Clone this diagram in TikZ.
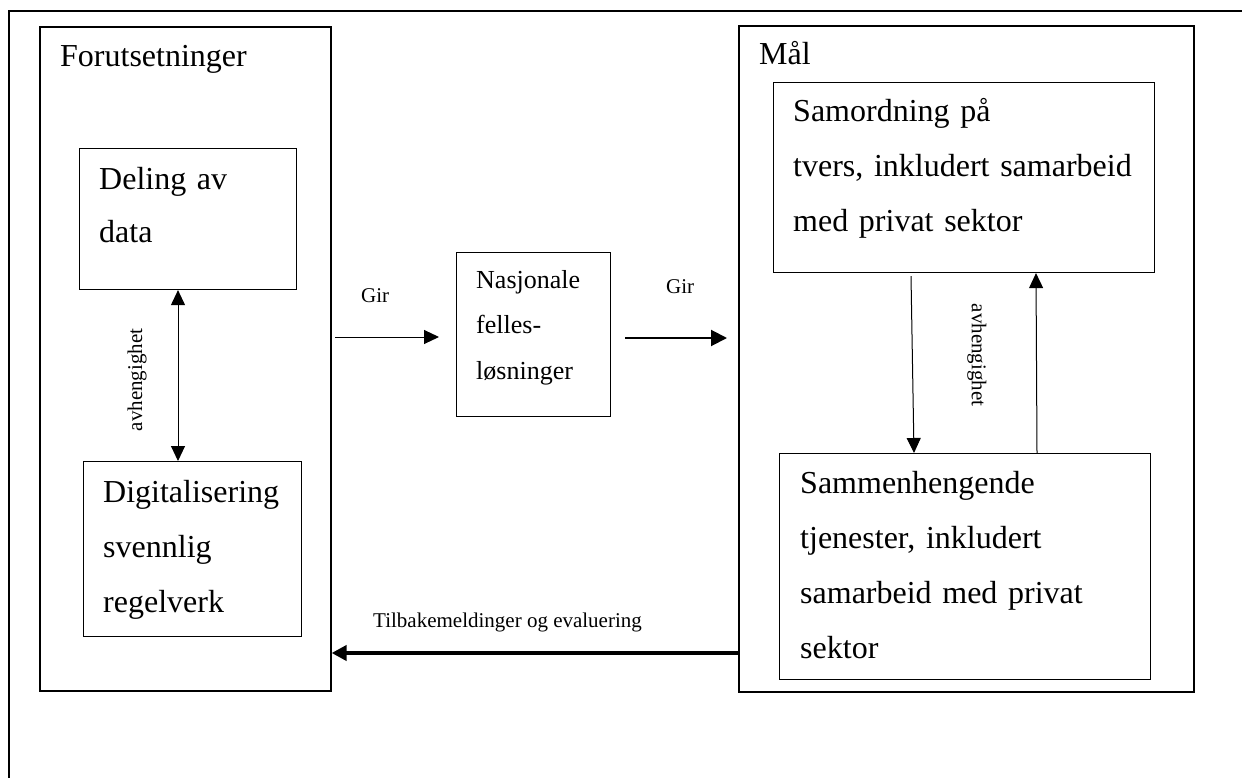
\documentclass[tikz,border=0pt]{standalone}
\usepackage{fontspec}
\setmainfont{Liberation Serif}
\usetikzlibrary{arrows.meta,calc}
\begin{document}
\begin{tikzpicture}[x=1pt,y=-1pt,
  bigbox/.style={draw, line width=1.6pt, inner sep=0pt, anchor=north west},
  smallbox/.style={draw, line width=1.1pt, inner sep=0pt, anchor=north west},
  bigtxt/.style={inner sep=0pt, anchor=base west, font=\fontsize{32}{55}\selectfont},
  boxtxt/.style={inner sep=0pt, anchor=base west, text width=#1, align=left},
  smalltxt/.style={inner sep=0pt, anchor=base west, font=\fontsize{21}{25}\selectfont},
  thinarrow/.style={line width=1pt, -{Triangle[length=15pt,width=14pt]}},
  thinboth/.style={line width=1pt, {Triangle[length=15pt,width=14pt]}-{Triangle[length=15pt,width=14pt]}}
]
\useasboundingbox (0,0) rectangle (1242,778);
\fill[white] (0,0) rectangle (1242,778);

% outer frame
\draw[line width=1.6pt] (9,790) -- (9,11) -- (1250,11);

% left column
\node[bigbox, minimum width=291, minimum height=664] (fu) at (39,26) {};
\node[bigtxt] (fut) at (60,67) {Forutsetninger};
\node[smallbox, minimum width=217, minimum height=141] (dd) at (79,148) {};
\node[boxtxt=190pt, font=\fontsize{32}{53}\selectfont] (ddt) at (99,190) {Deling av\\data};
\node[smallbox, minimum width=218, minimum height=175] (dg) at (83,461) {};
\node[boxtxt=198pt, font=\fontsize{32}{55}\selectfont] (dgt) at (103,502) {Digitalisering\\svennlig\\regelverk};
\coordinate (cx1) at (178,0);
\draw[thinboth] (cx1 |- dd.south) -- (cx1 |- dg.north);
\node[inner sep=0pt, rotate=90, font=\fontsize{21}{25}\selectfont] (av1) at (137,380) {avhengighet};

% middle
\node[smallbox, minimum width=154, minimum height=164] (nl) at (456,252) {};
\node[boxtxt=130pt, font=\fontsize{26}{45.5}\selectfont] (nlt) at (476,288) {Nasjonale\\felles-\\løsninger};
\coordinate (g1s) at (335,337);
\coordinate (g1e) at (439,337);
\draw[thinarrow] (g1s) -- (g1e);
\node[smalltxt] (gir1) at (361,302) {Gir};
\coordinate (g2s) at (625,338);
\coordinate (g2e) at (727,338);
\draw[line width=2pt, -{Triangle[length=16pt,width=16pt]}] (g2s) -- (g2e);
\node[smalltxt] (gir2) at (666,293) {Gir};

% right column
\node[bigbox, minimum width=455, minimum height=666] (ma) at (738,25) {};
\node[bigtxt] (mat) at (759,65) {Mål};
\node[smallbox, minimum width=381, minimum height=190] (sa) at (773,82) {};
\node[boxtxt=355pt, font=\fontsize{32}{55}\selectfont] (sat) at (793,122) {Samordning på\\tvers, inkludert samarbeid\\med privat sektor};
\node[smallbox, minimum width=371, minimum height=226] (sm) at (779,453) {};
\node[boxtxt=345pt, font=\fontsize{32}{55}\selectfont] (smt) at (800,493) {Sammenhengende\\tjenester, inkludert\\samarbeid med privat\\sektor};
\draw[thinarrow] ([xshift=138pt,yshift=-3pt]sa.south west) -- ([xshift=135pt]sm.north west);
\draw[thinarrow] ([xshift=258pt]sm.north west) -- ([xshift=263pt]sa.south west);
\node[inner sep=0pt, rotate=-90, font=\fontsize{21}{25}\selectfont] (av2) at (977,355) {avhengighet};

% feedback
\coordinate (fb) at (0,653);
\draw[line width=4pt, -{Triangle[length=15pt,width=15pt]}] (ma.west |- fb) -- (fu.east |- fb);
\node[smalltxt] (tb) at (373,627) {Tilbakemeldinger og evaluering};
\end{tikzpicture}
\end{document}
